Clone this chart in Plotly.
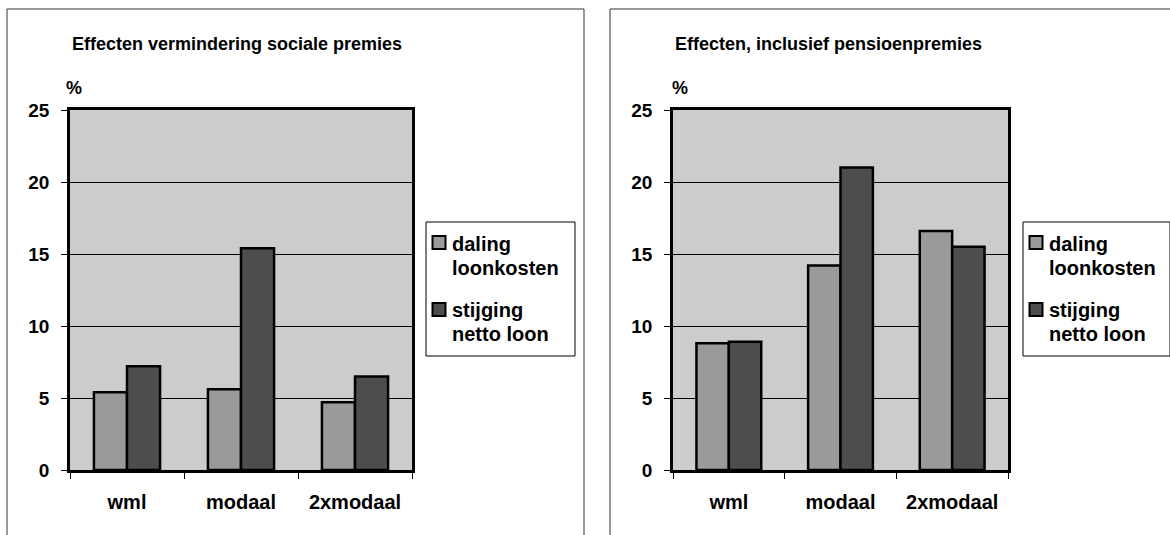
import plotly.graph_objects as go

# Income groups on the x axis
categories = ["wml", "modaal", "2xmodaal"]

# Left panel: effects of lower social premiums (%)
left_daling = [5.4, 5.6, 4.7]
left_stijging = [7.2, 15.4, 6.5]

# Right panel: effects including pension premiums (%)
right_daling = [8.8, 14.2, 16.6]
right_stijging = [8.9, 21.0, 15.5]

series_names = ["daling<br>loonkosten", "stijging<br>netto loon"]
legend_lines = [["daling", "loonkosten"], ["stijging", "netto loon"]]
panel_titles = ["Effecten vermindering sociale premies", "Effecten, inclusief pensioenpremies"]
y_ticks = [0, 5, 10, 15, 20, 25]

W, H = 1170, 535
FONT = "Liberation Sans, Arial, Helvetica, sans-serif"
C_DALING = "#9a9a9a"
C_STIJGING = "#4d4d4d"
C_PLOT = "#cccccc"


def px(x):
    return min(max(x, 0), W) / W


def py(y):
    return 1 - min(max(y, 0), H) / H


fig = go.Figure()

panels = [
    ("x", "y", left_daling, left_stijging),
    ("x2", "y2", right_daling, right_stijging),
]
for xa, ya, dal, sti in panels:
    for name, vals, col in [(series_names[0], dal, C_DALING), (series_names[1], sti, C_STIJGING)]:
        fig.add_trace(go.Bar(
            x=categories, y=vals, name=name, xaxis=xa, yaxis=ya,
            marker=dict(color=col, line=dict(color="black", width=2.5)),
            showlegend=False,
        ))

axis_font = dict(family=FONT, size=19, color="black", weight="bold")

xcommon = dict(
    type="category", showline=True, mirror=True, linecolor="black", linewidth=2.5,
    ticks="outside", ticklen=6, tickwidth=1, tickcolor="black", tickson="boundaries",
    showgrid=False, tickfont=dict(family=FONT, size=20, color="black", weight="bold"),
    ticklabelstandoff=12, fixedrange=True,
)
ycommon = dict(
    range=[0, 25], tickvals=y_ticks, showline=True, mirror=True, linecolor="black",
    linewidth=2.5, ticks="outside", ticklen=6, tickwidth=1, tickcolor="black",
    showgrid=True, gridcolor="black", gridwidth=1, zeroline=False,
    tickfont=axis_font, ticklabelstandoff=8, fixedrange=True,
)

fig.update_layout(
    width=W, height=H,
    margin=dict(l=0, r=0, t=0, b=0, autoexpand=False),
    paper_bgcolor="white", plot_bgcolor=C_PLOT,
    barmode="group", bargap=0.42, bargroupgap=0,
    showlegend=False,
    font=dict(family=FONT, color="black"),
    xaxis=dict(domain=[px(70), px(412)], anchor="y", **xcommon),
    yaxis=dict(domain=[py(470), py(110)], anchor="x", **ycommon),
    xaxis2=dict(domain=[px(673), px(1008)], anchor="y2", **xcommon),
    yaxis2=dict(domain=[py(470), py(110)], anchor="x2", **ycommon),
)

shapes = []
annotations = []

# Outer frames around each chart (open at the bottom and, on the right, at the page edge)
for x0, x1 in [(7, 584), (610, None)]:
    segs = [(x0, 9, x0, H), ((x0, 9, x1, 9) if x1 else (x0, 9, W, 9))]
    if x1:
        segs.append((x1, 9, x1, H))
    for a, b, c, d in segs:
        shapes.append(dict(type="line", xref="paper", yref="paper",
                           x0=px(a), y0=py(b), x1=px(c), y1=py(d),
                           line=dict(color="#333333", width=1)))

# Titles and unit labels
for tx, title, pctx in [(70, panel_titles[0], 74), (673, panel_titles[1], 680)]:
    annotations.append(dict(text=title, x=px(tx), y=py(44), xref="paper", yref="paper",
                            xanchor="left", yanchor="middle", showarrow=False,
                            font=dict(family=FONT, size=18, color="black", weight="bold")))
    annotations.append(dict(text="%", x=px(pctx), y=py(88), xref="paper", yref="paper",
                            xanchor="center", yanchor="middle", showarrow=False,
                            font=dict(family=FONT, size=18, color="black", weight="bold")))

# Legend boxes with swatches and two-line labels
for bx0, bx1 in [(426, 575), (1023, W)]:
    shapes.append(dict(type="rect", xref="paper", yref="paper",
                       x0=px(bx0), x1=px(bx1), y0=py(356), y1=py(222),
                       line=dict(color="black", width=1), fillcolor="white"))
    for i, col in enumerate([C_DALING, C_STIJGING]):
        top = 236 + i * 67
        shapes.append(dict(type="rect", xref="paper", yref="paper",
                           x0=px(bx0 + 6.5), x1=px(bx0 + 19.5), y0=py(top + 13), y1=py(top),
                           line=dict(color="black", width=2), fillcolor=col))
        for j, line in enumerate(legend_lines[i]):
            base = 251 + i * 66 + j * 24
            annotations.append(dict(text=line, x=px(bx0 + 24), y=py(base - 6.8),
                                    xref="paper", yref="paper", xanchor="left",
                                    yanchor="middle", showarrow=False,
                                    font=dict(family=FONT, size=20, color="black",
                                              weight="bold")))

fig.update_layout(shapes=shapes, annotations=annotations)

fig.write_html("out.html", config={"displayModeBar": False})
